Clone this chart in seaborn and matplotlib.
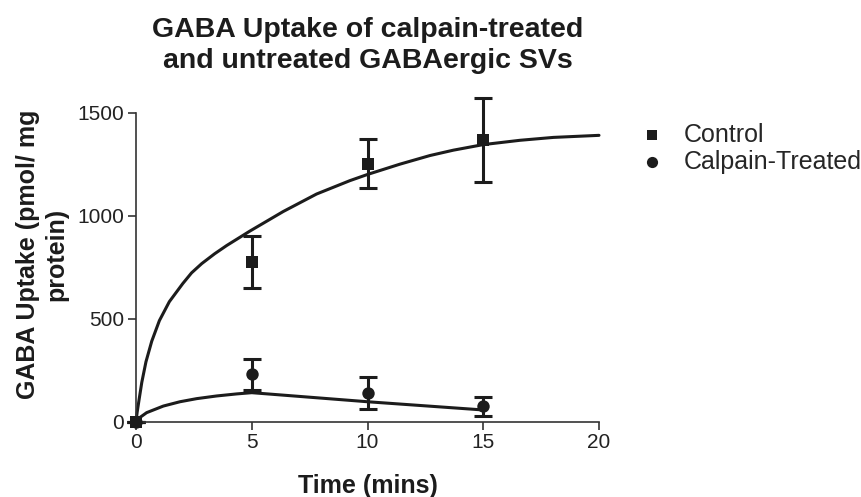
import numpy as np
import matplotlib
matplotlib.use("Agg")
import matplotlib.pyplot as plt
import seaborn as sns

# measured points (mean +/- error)
time_pts = [0, 5, 10, 15]
control_mean = [0, 775, 1253, 1367]
control_err = [0, 125, 118, 205]
calpain_mean = [0, 229, 139, 73]
calpain_err = [0, 76, 78, 47]

# fitted curves
control_fit_x = [0, 0.05, 0.13, 0.25, 0.43, 0.68, 1.01, 1.44, 2.02, 2.4, 2.84, 3.4, 3.92, 4.92,
                 6.36, 7.80, 9.24, 10.0, 11.40, 12.70, 13.71, 15.0, 16.59, 18.03, 20.0]
control_fit_y = [0, 45, 104, 190, 290, 390, 490, 582, 670, 722, 767, 815, 855, 925,
                 1020, 1105, 1170, 1200, 1250, 1292, 1318, 1345, 1366, 1380, 1390]
calpain_fit_x = [0, 0.15, 0.46, 1.18, 1.90, 2.62, 3.48, 4.35, 5.0, 10, 15]
calpain_fit_y = [0, 18, 43, 75, 96, 111, 124, 134, 140, 96, 56]

ink = "#1c1c1c"

sns.set_theme(style="ticks")
plt.rcParams['font.family'] = ['Liberation Sans', 'DejaVu Sans']

fig = plt.figure(figsize=(8.62, 4.97), dpi=100)
ax = fig.add_axes([136/862, 1-421.5/497, 463/862, 308.8/497])

sns.lineplot(x=control_fit_x, y=control_fit_y, sort=False, estimator=None,
             color=ink, lw=2.2, ax=ax, clip_on=False)
sns.lineplot(x=calpain_fit_x, y=calpain_fit_y, sort=False, estimator=None,
             color=ink, lw=2.2, ax=ax, clip_on=False)

ax.errorbar(time_pts, control_mean, yerr=control_err, fmt='none', ecolor=ink,
            elinewidth=2.2, capsize=6.5, capthick=2.2, clip_on=False)
ax.errorbar(time_pts, calpain_mean, yerr=calpain_err, fmt='none', ecolor=ink,
            elinewidth=2.2, capsize=6.5, capthick=2.2, clip_on=False)

sns.scatterplot(x=time_pts, y=control_mean, marker='s', s=75, color=ink,
                edgecolor=ink, linewidth=0, ax=ax, clip_on=False, zorder=5,
                label='Control')
sns.scatterplot(x=time_pts, y=calpain_mean, marker='o', s=80, color=ink,
                edgecolor=ink, linewidth=0, ax=ax, clip_on=False, zorder=4,
                label='Calpain-Treated')

ax.set_xlim(0, 20)
ax.set_ylim(0, 1500)
ax.set_xticks([0, 5, 10, 15, 20])
ax.set_yticks([0, 500, 1000, 1500])
sns.despine(ax=ax)
for s in ['left', 'bottom']:
    ax.spines[s].set_linewidth(1.2)
    ax.spines[s].set_color("#333333")
ax.tick_params(axis='both', direction='out', length=5.5, width=1.2,
               color="#333333", labelsize=15, labelcolor="#222222", pad=3)

ax.set_xlabel("Time (mins)", fontsize=18, fontweight='bold', color=ink)
ax.xaxis.set_label_coords(0.5, -0.17)
ax.set_ylabel("GABA Uptake (pmol/ mg\nprotein)", fontsize=18, fontweight='bold',
              color=ink, linespacing=1.2)
ax.yaxis.set_label_coords(-0.147, 0.54)

ax.set_title("GABA Uptake of calpain-treated\nand untreated GABAergic SVs",
             fontsize=20.5, fontweight='bold', color=ink, linespacing=1.25, pad=32)

ax.legend(loc='upper left', bbox_to_anchor=(640/862, 1-123/497),
          bbox_transform=fig.transFigure, frameon=False, fontsize=18,
          handlelength=1.0, handletextpad=0.75, labelspacing=0.1,
          markerscale=0.9, borderaxespad=0, borderpad=0)

fig.savefig("out.png", dpi=100)
